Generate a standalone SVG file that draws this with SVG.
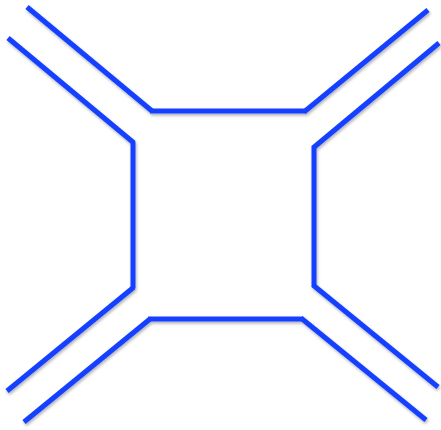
<svg xmlns="http://www.w3.org/2000/svg" width="441" height="430" viewBox="0 0 441 430">
<defs>
<filter id="sh" x="-10%" y="-10%" width="120%" height="120%">
<feDropShadow dx="1" dy="2" stdDeviation="1.5" flood-color="#000" flood-opacity="0.3"/>
</filter>
<style>
.l{stroke:#1440ff;stroke-width:5;stroke-linecap:butt;fill:none}
</style>
</defs>
<rect width="441" height="430" fill="#fff"/>
<g id="connectors" filter="url(#sh)">
<g id="top">
<line class="l" x1="27" y1="7" x2="152" y2="111"/>
<line class="l" x1="150" y1="111" x2="306" y2="111"/>
<line class="l" x1="304" y1="112" x2="428" y2="10"/>
</g>
<g id="left">
<line class="l" x1="8" y1="38" x2="134" y2="143"/>
<line class="l" x1="133" y1="142" x2="133" y2="288"/>
<line class="l" x1="134" y1="287" x2="7" y2="391"/>
</g>
<g id="bottom">
<line class="l" x1="24" y1="422" x2="150" y2="319"/>
<line class="l" x1="148" y1="319" x2="303" y2="319"/>
<line class="l" x1="301" y1="318" x2="426" y2="420"/>
</g>
<g id="right">
<line class="l" x1="439" y1="43" x2="313" y2="148"/>
<line class="l" x1="314" y1="146" x2="314" y2="287"/>
<line class="l" x1="313" y1="285" x2="438" y2="387"/>
</g>
</g>
</svg>
